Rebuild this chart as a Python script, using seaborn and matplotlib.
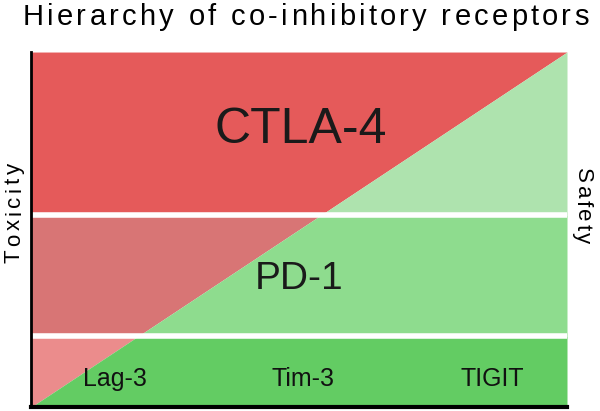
import seaborn as sns
import matplotlib.pyplot as plt
import numpy as np
from matplotlib import font_manager, ft2font
from matplotlib.font_manager import FontProperties

# Datos del gráfico
band_edges = [0.0, 0.20, 0.54, 1.0]          # límites de las bandas (abajo -> arriba)
band_names = ["", "PD-1", "CTLA-4"]
red_colors = ["#EB8C8C", "#D87575", "#E55A5A"]
green_colors = ["#63CC63", "#8EDC8E", "#AEE3AE"]
diag_x = [0.0, 1.0]
diag_y = [0.0, 1.0]
bottom_labels = ["Lag-3", "Tim-3", "TIGIT"]

sns.set_style("white")
plt.rcParams['font.family'] = ['Liberation Sans', 'DejaVu Sans']

W, H = 600, 411
fig = plt.figure(figsize=(W / 100, H / 100), dpi=100)
ax = fig.add_axes([0.052, 0.0097, 0.893, 0.8637])

font = ft2font.FT2Font(font_manager.findfont(FontProperties(family='Liberation Sans')))


def spaced_text(s, cx, cy, size, width, rotation=0):
    # texto con espaciado entre letras (coordenadas en pixeles desde arriba)
    font.set_size(size, 100)
    adv = [font.load_char(ord(c)).linearHoriAdvance / 65536 for c in s]
    track = (width - sum(adv)) / (len(s) - 1)
    pos = -(sum(adv) + track * (len(s) - 1)) / 2
    for c, a in zip(s, adv):
        mid = pos + a / 2
        if rotation == 0:
            x, y = cx + mid, cy
        elif rotation == 90:
            x, y = cx, cy - mid
        else:
            x, y = cx, cy + mid
        fig.text(x / W, 1 - y / H, c, fontsize=size, ha="center", va="baseline",
                 rotation=rotation, rotation_mode="anchor", color="black")
        pos += a + track


def diag(y):
    # x del diagonal para un y dado
    return np.interp(y, diag_y, diag_x)


for i in range(len(band_names)):
    lo, hi = band_edges[i], band_edges[i + 1]
    ys = np.array([lo, hi])
    ax.fill_betweenx(ys, 0, diag(ys), color=red_colors[i], lw=0)
    ax.fill_betweenx(ys, diag(ys), 1, color=green_colors[i], lw=0)

for e in band_edges[1:-1]:
    ax.axhline(e, color="white", lw=4)

ax.text(0.504, 0.78, "CTLA-4", fontsize=36, ha="center", va="center", color="#1a1a1a")
ax.text(0.50, 0.362, "PD-1", fontsize=28, ha="center", va="center", color="#1a1a1a")
for xp, lab in zip([0.157, 0.507, 0.86], bottom_labels):
    ax.text(xp, 0.079, lab, fontsize=18, ha="center", va="center", color="#111111")

ax.set_xlim(0, 1)
ax.set_ylim(0, 1)
ax.set_xticks([])
ax.set_yticks([])
sns.despine(ax=ax, top=True, right=True)
ax.spines['left'].set_color("black")
ax.spines['left'].set_linewidth(2)
ax.spines['bottom'].set_color("black")
ax.spines['bottom'].set_linewidth(3)

spaced_text("Hierarchy of co-inhibitory receptors", 306, 25, 21, 566)
spaced_text("Toxicity", 20, 213, 16, 100, rotation=90)
spaced_text("Safety", 577, 206, 16, 75, rotation=-90)

fig.savefig("out.png", dpi=100)
